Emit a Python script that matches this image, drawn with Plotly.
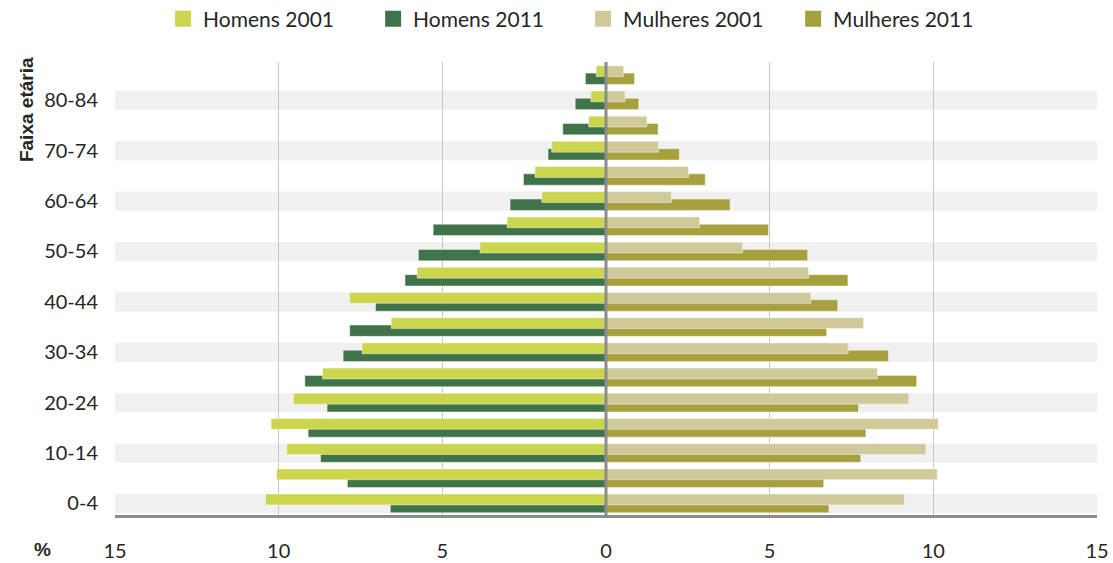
import plotly.graph_objects as go

# Age groups, bottom to top
age_groups = ["0-4", "5-9", "10-14", "15-19", "20-24", "25-29", "30-34", "35-39",
              "40-44", "45-49", "50-54", "55-59", "60-64", "65-69", "70-74",
              "75-79", "80-84", "85+"]
labeled_groups = ["0-4", "10-14", "20-24", "30-34", "40-44", "50-54", "60-64",
                  "70-74", "80-84"]

# Percent of population
homens_2001 = [10.40, 10.06, 9.75, 10.23, 9.55, 8.66, 7.45, 6.56, 7.83, 5.77,
               3.85, 3.02, 1.96, 2.17, 1.66, 0.53, 0.46, 0.30]
homens_2011 = [6.59, 7.90, 8.72, 9.10, 8.52, 9.20, 8.03, 7.83, 7.04, 6.14,
               5.73, 5.28, 2.93, 2.52, 1.77, 1.32, 0.94, 0.63]
mulheres_2001 = [9.12, 10.12, 9.77, 10.15, 9.25, 8.29, 7.40, 7.87, 6.26, 6.19,
                 4.17, 2.86, 2.00, 2.52, 1.60, 1.25, 0.58, 0.54]
mulheres_2011 = [6.81, 6.65, 7.78, 7.94, 7.71, 9.49, 8.63, 6.74, 7.08, 7.39,
                 6.16, 4.96, 3.79, 3.03, 2.24, 1.59, 1.00, 0.87]

series_names = ["Homens 2001", "Homens 2011", "Mulheres 2001", "Mulheres 2011"]

x_ticks = [-15, -10, -5, 0, 5, 10, 15]
x_tick_text = ["15", "10", "5", "0", "5", "10", "15"]

C_H01 = "#CBD54E"
C_H11 = "#41734A"
C_M01 = "#D0CA9A"
C_M11 = "#A6A03F"
colors = [C_H01, C_H11, C_M01, C_M11]

TXT = "#262626"
FONT = "Lato, 'Open Sans', sans-serif"

edge = dict(color="rgba(255,255,255,0.55)", width=0.8)

fig = go.Figure()
# 2011 bars (lower half of each row, drawn first)
fig.add_trace(go.Bar(y=age_groups, x=[-v for v in homens_2011], orientation="h",
                     name="Homens 2011", marker=dict(color=C_H11, line=edge),
                     offset=-0.37, width=0.45, showlegend=False,
                     customdata=homens_2011,
                     hovertemplate="%{y}: %{customdata}%<extra>Homens 2011</extra>"))
fig.add_trace(go.Bar(y=age_groups, x=mulheres_2011, orientation="h",
                     name="Mulheres 2011", marker=dict(color=C_M11, line=edge),
                     offset=-0.37, width=0.45, showlegend=False))
# 2001 bars (upper half, drawn on top)
fig.add_trace(go.Bar(y=age_groups, x=[-v for v in homens_2001], orientation="h",
                     name="Homens 2001", marker=dict(color=C_H01, line=edge),
                     offset=-0.06, width=0.43, showlegend=False,
                     customdata=homens_2001,
                     hovertemplate="%{y}: %{customdata}%<extra>Homens 2001</extra>"))
fig.add_trace(go.Bar(y=age_groups, x=mulheres_2001, orientation="h",
                     name="Mulheres 2001", marker=dict(color=C_M01, line=edge),
                     offset=-0.06, width=0.43, showlegend=False))

# legend entries with larger square swatches
for name, col in zip(series_names, colors):
    fig.add_trace(go.Scatter(x=[None], y=[None], mode="markers", name=name,
                             marker=dict(symbol="square", size=17, color=col),
                             hoverinfo="skip"))

# background stripes behind labelled groups
shapes = []
for g in labeled_groups:
    i = age_groups.index(g)
    shapes.append(dict(type="rect", xref="paper", yref="y", x0=0, x1=1,
                       y0=i - 0.38, y1=i + 0.38, fillcolor="#F0F0F0",
                       line=dict(width=0), layer="below"))
# central (zero) axis line, drawn above the bars
shapes.append(dict(type="line", xref="x", yref="paper", x0=0, x1=0, y0=0, y1=1,
                   line=dict(color="#8C8C8C", width=3), layer="above"))

fig.update_layout(
    width=1113, height=563,
    margin=dict(l=115, r=16, t=62, b=48, autoexpand=False),
    paper_bgcolor="white", plot_bgcolor="white",
    barmode="overlay",
    font=dict(family=FONT, size=18, color=TXT),
    shapes=shapes,
    showlegend=True,
    legend=dict(orientation="h", x=0.049, xanchor="left", y=1.14, yanchor="top",
                font=dict(size=21, color=TXT), entrywidth=165, entrywidthmode="pixels",
                itemclick=False, itemdoubleclick=False, bgcolor="rgba(0,0,0,0)"),
    xaxis=dict(range=[-15, 15], tickvals=x_ticks, ticktext=x_tick_text,
               showgrid=True, gridcolor="#C8C8C8", gridwidth=1.3,
               zeroline=False,
               showline=True, linecolor="#8C8C8C", linewidth=3,
               ticks="", ticklabelstandoff=16, fixedrange=True, automargin=False,
               tickfont=dict(size=20, color=TXT)),
    yaxis=dict(type="category", categoryorder="array", categoryarray=age_groups,
               range=[-0.46, 17.52], tickvals=labeled_groups, ticktext=labeled_groups,
               showgrid=False, zeroline=False, showline=False, ticks="",
               ticklabelstandoff=16, fixedrange=True, automargin=False,
               tickfont=dict(size=20, color=TXT)),
    annotations=[
        dict(text="<b>Faixa etária</b>", xref="paper", yref="paper",
             x=-0.0906, y=0.894, xanchor="center", yanchor="middle", textangle=-90,
             showarrow=False, font=dict(family="Liberation Sans, Arial", size=19, color=TXT)),
        dict(text="<b>%</b>", xref="paper", yref="paper",
             x=-0.0743, y=-0.077, xanchor="center", yanchor="middle",
             showarrow=False, font=dict(family="Liberation Sans, Arial", size=19, color=TXT)),
    ],
)

fig.write_html("out.html", config={"displayModeBar": False},
               post_script="document.body.style.margin='0';document.body.style.overflow='hidden';")
